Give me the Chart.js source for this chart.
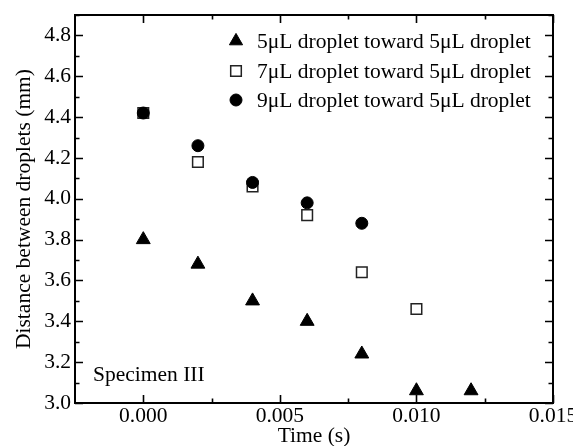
<!DOCTYPE html>
<html><head><meta charset="utf-8">
<script src="https://cdn.jsdelivr.net/npm/chart.js@4/dist/chart.umd.min.js"></script>
<style>html,body{margin:0;padding:0;background:#fff;overflow:hidden}#wrap{width:573px;height:446px;position:relative}</style>
</head><body><div id="wrap"><canvas id="c" width="573" height="446"></canvas></div>
<script>
const FONT = "'Liberation Serif', 'Times New Roman', serif";
const FS = 21.5;

// ---- data ----
const seriesLabels = ['5\u03bcL droplet toward 5\u03bcL droplet', '7\u03bcL droplet toward 5\u03bcL droplet', '9\u03bcL droplet toward 5\u03bcL droplet'];
const time5 = [0, 0.002, 0.004, 0.006, 0.008, 0.010, 0.012];
const dist5 = [3.80, 3.68, 3.50, 3.40, 3.24, 3.06, 3.06];
const time7 = [0, 0.002, 0.004, 0.006, 0.008, 0.010];
const dist7 = [4.42, 4.18, 4.06, 3.92, 3.64, 3.46];
const time9 = [0, 0.002, 0.004, 0.006, 0.008];
const dist9 = [4.42, 4.26, 4.08, 3.98, 3.88];

const xTickValues = [0, 0.005, 0.010, 0.015];
const xMinorValues = [0.0025, 0.0075, 0.0125];
const yTickValues = [3.0, 3.2, 3.4, 3.6, 3.8, 4.0, 4.2, 4.4, 4.6, 4.8];
const yMinorValues = [3.1, 3.3, 3.5, 3.7, 3.9, 4.1, 4.3, 4.5, 4.7, 4.9];
const xTitle = 'Time (s)';
const yTitle = 'Distance between droplets (mm)';
const noteText = 'Specimen III';

const toPts = (xs, ys) => xs.map((x, i) => ({x: x, y: ys[i]}));

const styles = [
  {pointStyle: 'triangle', pointRadius: 8, backgroundColor: '#000', borderColor: '#000', pointBorderWidth: 1, order: 2},
  {pointStyle: 'rect', pointRadius: 7.5, backgroundColor: '#fff', borderColor: '#222', pointBorderWidth: 1.5, order: 1},
  {pointStyle: 'circle', pointRadius: 6, backgroundColor: '#000', borderColor: '#000', pointBorderWidth: 1, order: 0}
];
const seriesData = [toPts(time5, dist5), toPts(time7, dist7), toPts(time9, dist9)];

function drawMarker(ctx, style, x, y, r) {
  ctx.save();
  ctx.fillStyle = style.backgroundColor;
  ctx.strokeStyle = style.borderColor;
  ctx.lineWidth = style.pointBorderWidth;
  ctx.beginPath();
  if (style.pointStyle === 'triangle') {
    let rad = 0;
    ctx.moveTo(x + Math.sin(rad) * r, y - Math.cos(rad) * r);
    rad += 2 * Math.PI / 3;
    ctx.lineTo(x + Math.sin(rad) * r, y - Math.cos(rad) * r);
    rad += 2 * Math.PI / 3;
    ctx.lineTo(x + Math.sin(rad) * r, y - Math.cos(rad) * r);
    ctx.closePath();
  } else if (style.pointStyle === 'rect') {
    const s = Math.SQRT1_2 * r;
    ctx.rect(x - s, y - s, 2 * s, 2 * s);
  } else {
    ctx.arc(x, y, r, 0, Math.PI * 2);
  }
  ctx.fill();
  ctx.stroke();
  ctx.restore();
}

const framePlugin = {
  id: 'frame',
  beforeDatasetsDraw(chart) {
    const {ctx, chartArea: a, scales: {x, y}} = chart;
    ctx.save();
    ctx.strokeStyle = '#000';
    ctx.lineWidth = 2;
    ctx.strokeRect(a.left, a.top, a.right - a.left, a.bottom - a.top);
    ctx.lineWidth = 1.6;
    const MAJ = 8, MIN = 4.5;
    ctx.beginPath();
    xTickValues.forEach(v => { const px = Math.round(x.getPixelForValue(v)) + 0.5;
      ctx.moveTo(px, a.bottom); ctx.lineTo(px, a.bottom - MAJ);
      ctx.moveTo(px, a.top); ctx.lineTo(px, a.top + MAJ); });
    xMinorValues.forEach(v => { const px = Math.round(x.getPixelForValue(v)) + 0.5;
      ctx.moveTo(px, a.bottom); ctx.lineTo(px, a.bottom - MIN);
      ctx.moveTo(px, a.top); ctx.lineTo(px, a.top + MIN); });
    yTickValues.forEach(v => { const py = Math.round(y.getPixelForValue(v)) + 0.5;
      ctx.moveTo(a.left, py); ctx.lineTo(a.left + MAJ, py);
      ctx.moveTo(a.right, py); ctx.lineTo(a.right - MAJ, py); });
    yMinorValues.forEach(v => { const py = Math.round(y.getPixelForValue(v)) + 0.5;
      ctx.moveTo(a.left, py); ctx.lineTo(a.left + MIN, py);
      ctx.moveTo(a.right, py); ctx.lineTo(a.right - MIN, py); });
    ctx.stroke();
    ctx.restore();
  },
  afterDraw(chart) {
    const {ctx, chartArea: a} = chart;
    ctx.save();
    ctx.fillStyle = '#000';
    ctx.font = FS + 'px ' + FONT;
    ctx.textBaseline = 'middle';
    ctx.textAlign = 'left';
    // legend
    const lx = 236, tx = 257, rows = [41, 71, 100];
    chart.data.datasets.forEach((ds, i) => {
      drawMarker(ctx, styles[i], lx, rows[i], styles[i].pointRadius * (i === 0 ? 0.95 : 1));
      ctx.fillStyle = '#000';
      ctx.fillText(ds.label, tx, rows[i] + 1);
    });
    // note
    ctx.fillText(noteText, a.left + 18, a.bottom - 28);
    ctx.restore();
  }
};

new Chart(document.getElementById('c'), {
  type: 'scatter',
  data: {
    datasets: seriesLabels.map((lab, i) => Object.assign({label: lab, data: seriesData[i], showLine: false}, styles[i]))
  },
  options: {
    responsive: false,
    devicePixelRatio: 1,
    animation: false,
    events: [],
    layout: {padding: {top: 15, right: 20, left: 0, bottom: 0}},
    plugins: {legend: {display: false}, tooltip: {enabled: false}},
    scales: {
      x: {
        type: 'linear', min: -0.0025, max: 0.015,
        grid: {display: false, drawTicks: false},
        border: {display: false},
        afterBuildTicks: s => { s.ticks = xTickValues.map(v => ({value: v})); },
        afterFit: s => { s.height = 43; s.paddingLeft = 0; s.paddingRight = 0; },
        ticks: {color: '#000', padding: 0, maxRotation: 0, autoSkip: false,
          font: {family: FONT, size: FS, lineHeight: 1.2},
          callback: v => Number(v).toFixed(3)},
        title: {display: true, text: xTitle, color: '#000', padding: {top: 0, bottom: 0},
          font: {family: FONT, size: FS, lineHeight: 0.9}}
      },
      y: {
        type: 'linear', min: 3.0, max: 4.9,
        grid: {display: false, drawTicks: false},
        border: {display: false},
        afterBuildTicks: s => { s.ticks = yTickValues.map(v => ({value: v})); },
        afterFit: s => { s.width = 75; s.paddingTop = 0; s.paddingBottom = 0; },
        ticks: {color: '#000', padding: 4, autoSkip: false,
          font: {family: FONT, size: FS, lineHeight: 1.2},
          callback: v => Number(v).toFixed(1)},
        title: {display: true, text: yTitle, color: '#000', padding: {top: 11, bottom: 0},
          font: {family: FONT, size: FS, lineHeight: 1.2}}
      }
    }
  },
  plugins: [framePlugin]
});
</script></body></html>
